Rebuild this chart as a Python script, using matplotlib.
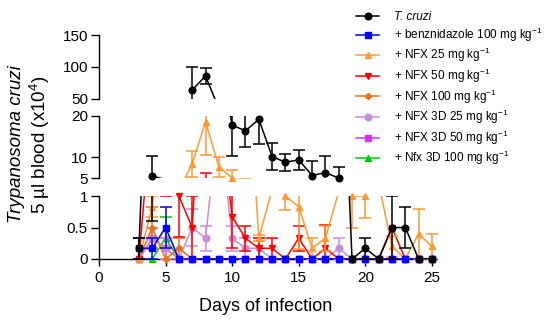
import matplotlib
matplotlib.use("Agg")
import matplotlib.pyplot as plt
import numpy as np
from matplotlib.lines import Line2D

plt.rcParams['font.family'] = ['Liberation Sans', 'DejaVu Sans']
plt.rcParams['mathtext.fontset'] = 'custom'
plt.rcParams['mathtext.rm'] = 'Liberation Sans'
plt.rcParams['mathtext.it'] = 'Liberation Sans:italic'

nan = np.nan
days = np.arange(3, 26)  # days 3..25

# parasitemia (x10^4 per 5 ul blood), mean and SEM
tcruzi = [0.17, 5.5, 4.6, nan, 64, 86, 35, 17.8, 16.4, 19.2, 10.2, 8.8, 9.4, 5.6, 6.3, 5.0,
          0, 0.17, 0, 0.5, 0.5, 0, 0]
tcruzi_err = [0.17, 4.9, 0, 0, 36, 12.5, 10, 7.4, 3.8, 6, 3.2, 2.0, 2.4, 3.4, 4.1, 2.7,
              0, 0.17, 0, 0.5, 0.33, 0, 0]
bnz = [0.17, 0.17, 0.5] + [0] * 20
bnz_err = [0.17, 0.17, 0.33] + [0] * 20
nfx25 = [0, 0.83, 3.0, 2.1, 8.4, 18.6, 7.7, 5.0, 3.7, 0.33, 1.1, 1.0, 0.83, 0.17, 0.33, 1.07,
         1.0, 1.0, 1.2, 0.2, 0, 0.4, 0.2]
nfx25_err = [0, 0.17, 1, 1, 3.1, 8, 2.4, 2.0, 1, 0.05, 0.05, 0.22, 0.67, 0.17, 0.2, 0.05,
             0.5, 0.35, 0.1, 0.17, 0, 0.4, 0.2]
nfx50 = [0, 2.5, 2.0, 1.0, 0.5, 4.3, 2.5, 0.67, 0.33, 0.17, 0.17, 0, 0.33, 0, 0.17, 0,
         0, 0, 0, 0.5, 0, 0, 0]
nfx50_err = [0, 1, 1, 0.65, 0.5, 2, 1, 0.5, 0.2, 0.17, 0.17, 0, 0.2, 0, 0.37, 0,
             0, 0, 0, 0, 0, 0, 0]
nfx100 = [0, 0.5, 0, 0.17] + [0] * 19
nfx100_err = [0, 0.33, 0, 0.17] + [0] * 19
nfx3d25 = [0, 0.33, 0.17, 0, 0.5, 0.33, 2.3, 0.33, 0.17, 0.17, 0, 0, 0, 0, 0, 0.17,
           0, 0, 0, 0, 0, 0, 0]
nfx3d25_err = [0, 0.17, 0.17, 0, 0.3, 0.2, 1, 0.2, 0.17, 0.17, 0, 0, 0, 0, 0, 0.17,
               0, 0, 0, 0, 0, 0, 0]
nfx3d50 = [0, 0.33, 0.17, 0] + [0] * 19
nfx3d50_err = [0, 0.17, 0.17, 0] + [0] * 19
nfx3d100 = [0, 0, 0.33, 0] + [0] * 19
nfx3d100_err = [0, 0, 0.33, 0] + [0] * 19

labels = ['T. cruzi',
          '+ benznidazole 100 mg kg$^{-1}$',
          '+ NFX 25 mg kg$^{-1}$',
          '+ NFX 50 mg kg$^{-1}$',
          '+ NFX 100 mg kg$^{-1}$',
          '+ NFX 3D 25 mg kg$^{-1}$',
          '+ NFX 3D 50 mg kg$^{-1}$',
          '+ Nfx 3D 100 mg kg$^{-1}$']
values = [tcruzi, bnz, nfx25, nfx50, nfx100, nfx3d25, nfx3d50, nfx3d100]
errors = [tcruzi_err, bnz_err, nfx25_err, nfx50_err, nfx100_err, nfx3d25_err, nfx3d50_err, nfx3d100_err]
colors = ['#000000', '#0000FF', '#FF9933', '#FF0000', '#E8731A', '#C98DD8', '#D633FF', '#00C800']
markers = ['o', 's', '^', 'v', 'D', 'o', 's', '^']
msizes = [4.8, 4.3, 4.8, 4.8, 3.3, 4.8, 4.3, 4.8]

fig = plt.figure(figsize=(5.5, 3.25), dpi=100)
ax_top = fig.add_axes([0.18, 0.6954, 0.615, 0.1969])
ax_mid = fig.add_axes([0.18, 0.4523, 0.615, 0.1908])
ax_bot = fig.add_axes([0.18, 0.2031, 0.615, 0.1938])
panels = [(ax_top, 50, 150, [50, 100, 150], ['50', '100', '150']),
          (ax_mid, 5, 20, [5, 10, 20], ['5', '10', '20']),
          (ax_bot, 0, 1, [0, 0.5, 1], ['0', '0.5', '1'])]

for ax, lo, hi, ticks, ticklabels in panels:
    # first series ends up on top, like the original
    for i in range(len(values) - 1, -1, -1):
        v = np.array(values[i], dtype=float)
        e = np.array(errors[i], dtype=float)
        z = 10 - i
        has = e > 0
        ax.errorbar(days[has], v[has], yerr=e[has], fmt='none', ecolor=colors[i],
                    elinewidth=1.1, capsize=4.5, capthick=1.1, zorder=z)
        ax.plot(days, v, '-', color=colors[i], lw=1.1, zorder=z)
        m = (v >= lo - 1e-9) & (v <= hi + 1e-9)
        ax.plot(days[m], v[m], ls='none', marker=markers[i], ms=msizes[i],
                color=colors[i], clip_on=False, zorder=z + 0.5)
    ax.set_ylim(lo, hi)
    ax.set_xlim(0, 25.4)
    ax.set_yticks(ticks)
    ax.set_yticklabels(ticklabels)
    ax.spines['top'].set_visible(False)
    ax.spines['right'].set_visible(False)
    ax.spines['left'].set_linewidth(1)
    ax.tick_params(axis='y', direction='out', length=6, width=1, labelsize=11, pad=2)
    ax.patch.set_alpha(0)
    if ax is not ax_bot:
        ax.spines['bottom'].set_visible(False)
        ax.set_xticks([])

ax_bot.set_xticks([0, 5, 10, 15, 20, 25])
ax_bot.tick_params(axis='x', direction='out', length=5, width=1, labelsize=11, pad=4)
ax_bot.spines['bottom'].set_linewidth(1)

fig.text(0.4827, 0.058, 'Days of infection', ha='center', va='center', fontsize=13)
fig.text(0.03, 0.555, 'Trypanosoma cruzi', rotation=90, ha='center', va='center',
         fontsize=13.5, style='italic')
fig.text(0.073, 0.555, '5 \u00b5l blood (x10$^{4}$)', rotation=90, ha='center', va='center',
         fontsize=13.5)

handles = [Line2D([], [], color=colors[i], marker=markers[i], ms=msizes[i], lw=1.1)
           for i in range(len(labels))]
leg = fig.legend(handles, labels, loc='upper left', bbox_to_anchor=(0.647, 0.965),
                 frameon=False, fontsize=8.5, handlelength=2.0, handletextpad=1.2,
                 labelspacing=0.2, borderaxespad=0, borderpad=0)
leg.get_texts()[0].set_fontstyle('italic')

fig.savefig('out.png', dpi=100)
